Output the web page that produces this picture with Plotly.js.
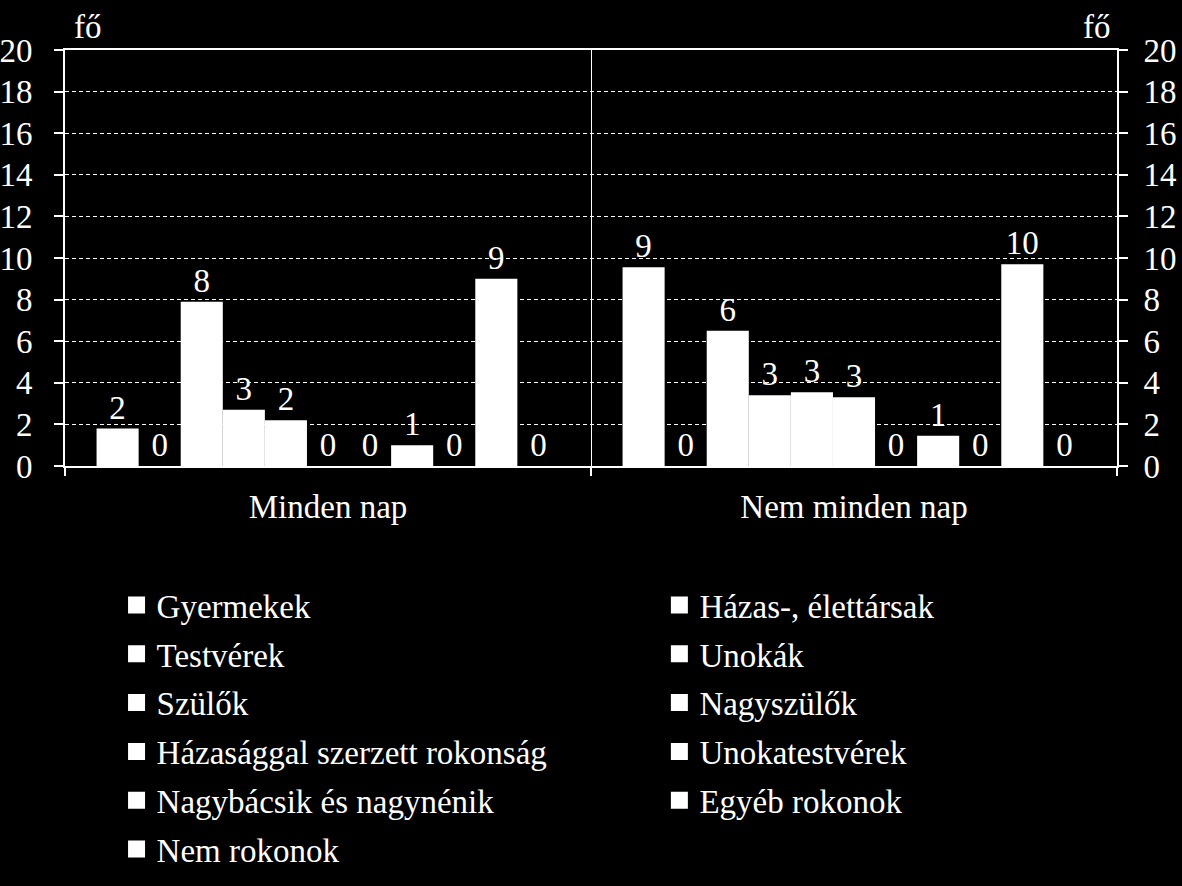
<!DOCTYPE html>
<html>
<head>
<meta charset="utf-8">
<script src="https://cdn.plot.ly/plotly-3.0.1.min.js"></script>
<style>
  html, body { margin: 0; padding: 0; background: #000; }
  #chart { width: 1182px; height: 886px; }
</style>
</head>
<body>
<div id="chart"></div>
<script>
const categories = ['Minden nap', 'Nem minden nap'];
const seriesNames = [
  'Gyermekek', 'Házas-, élettársak', 'Testvérek', 'Unokák', 'Szülők', 'Nagyszülők',
  'Házasággal szerzett rokonság', 'Unokatestvérek', 'Nagybácsik és nagynénik',
  'Egyéb rokonok', 'Nem rokonok'
];
const mindenNapValues    = [1.8, 0, 7.9, 2.7, 2.2, 0, 0, 1.0, 0, 9.0, 0];
const nemMindenNapValues = [9.55, 0, 6.5, 3.4, 3.55, 3.3, 0, 1.45, 0, 9.7, 0];
const mindenNapLabels    = ['2', '0', '8', '3', '2', '0', '0', '1', '0', '9', '0'];
const nemMindenNapLabels = ['9', '0', '6', '3', '3', '3', '0', '1', '0', '10', '0'];
const yTickValues = [0, 2, 4, 6, 8, 10, 12, 14, 16, 18, 20];

const FONT = '"Liberation Serif", "Times New Roman", "DejaVu Serif", serif';
const FS = 33;

const traces = seriesNames.map((name, i) => ({
  type: 'bar',
  name: name,
  x: categories,
  y: [mindenNapValues[i], nemMindenNapValues[i]],
  text: [mindenNapLabels[i], nemMindenNapLabels[i]],
  textposition: 'outside',
  textfont: { family: FONT, size: FS, color: '#ffffff' },
  cliponaxis: false,
  marker: { color: '#ffffff', line: { width: 0 } },
  legend: (i % 2 === 0) ? 'legend' : 'legend2',
  legendgroup: 'g' + i,
  hoverinfo: 'skip'
}));

// empty helper trace so that the right-hand axis is drawn
traces.push({
  type: 'scatter', mode: 'none', x: [], y: [], yaxis: 'y2',
  showlegend: false, hoverinfo: 'skip'
});

const axisCommon = {
  range: [0, 20],
  autorange: false,
  tickvals: yTickValues,
  ticktext: yTickValues.map(String),
  ticks: 'outside',
  ticklen: 9,
  tickwidth: 2,
  tickcolor: '#ffffff',
  showline: true,
  linecolor: '#ffffff',
  linewidth: 2,
  zeroline: false,
  automargin: false,
  tickfont: { family: FONT, size: FS, color: '#ffffff' },
  fixedrange: true
};

const legendCommon = {
  orientation: 'v',
  xanchor: 'left',
  yanchor: 'top',
  y: -0.267,
  bgcolor: 'rgba(0,0,0,0)',
  font: { family: FONT, size: FS, color: '#ffffff' },
  tracegroupgap: 2.9,
  itemclick: false,
  itemdoubleclick: false
};

const layout = {
  width: 1182,
  height: 886,
  paper_bgcolor: '#000000',
  plot_bgcolor: '#000000',
  margin: { l: 65, r: 65, t: 50, b: 420, pad: 0, autoexpand: false },
  font: { family: FONT, size: FS, color: '#ffffff' },
  barmode: 'group',
  bargap: 0.12,
  bargroupgap: 0,
  showlegend: true,
  xaxis: {
    type: 'category',
    tickson: 'boundaries',
    ticks: 'outside',
    ticklen: 8,
    tickwidth: 2,
    tickcolor: '#ffffff',
    showgrid: true,
    gridcolor: '#ffffff',
    gridwidth: 1,
    showline: true,
    mirror: true,
    linecolor: '#ffffff',
    linewidth: 2,
    automargin: false,
    ticklabelstandoff: 10,
    tickfont: { family: FONT, size: FS, color: '#ffffff' },
    fixedrange: true
  },
  yaxis: Object.assign({}, axisCommon, {
    side: 'left',
    showgrid: true,
    gridcolor: '#ffffff',
    gridwidth: 1,
    griddash: '4px,3px',
    ticklabelstandoff: 15
  }),
  yaxis2: Object.assign({}, axisCommon, {
    side: 'right',
    overlaying: 'y',
    anchor: 'x',
    showgrid: false,
    ticklabelstandoff: 9
  }),
  legend: Object.assign({}, legendCommon, { x: 0.049 }),
  legend2: Object.assign({}, legendCommon, { x: 0.565 }),
  annotations: [
    { xref: 'paper', yref: 'paper', x: 0.022, y: 1.0, xanchor: 'center', yanchor: 'bottom', yshift: 3,
      text: 'fő', showarrow: false, font: { family: FONT, size: FS, color: '#ffffff' } },
    { xref: 'paper', yref: 'paper', x: 0.981, y: 1.0, xanchor: 'center', yanchor: 'bottom', yshift: 3,
      text: 'fő', showarrow: false, font: { family: FONT, size: FS, color: '#ffffff' } }
  ]
};

Plotly.newPlot('chart', traces, layout, { staticPlot: true, displayModeBar: false }).then(() => {
  document.querySelectorAll('.legendpoints path').forEach(p => {
    p.setAttribute('d', 'M8.5,8.5H-8.5V-8.5H8.5Z');
  });
});
</script>
</body>
</html>
